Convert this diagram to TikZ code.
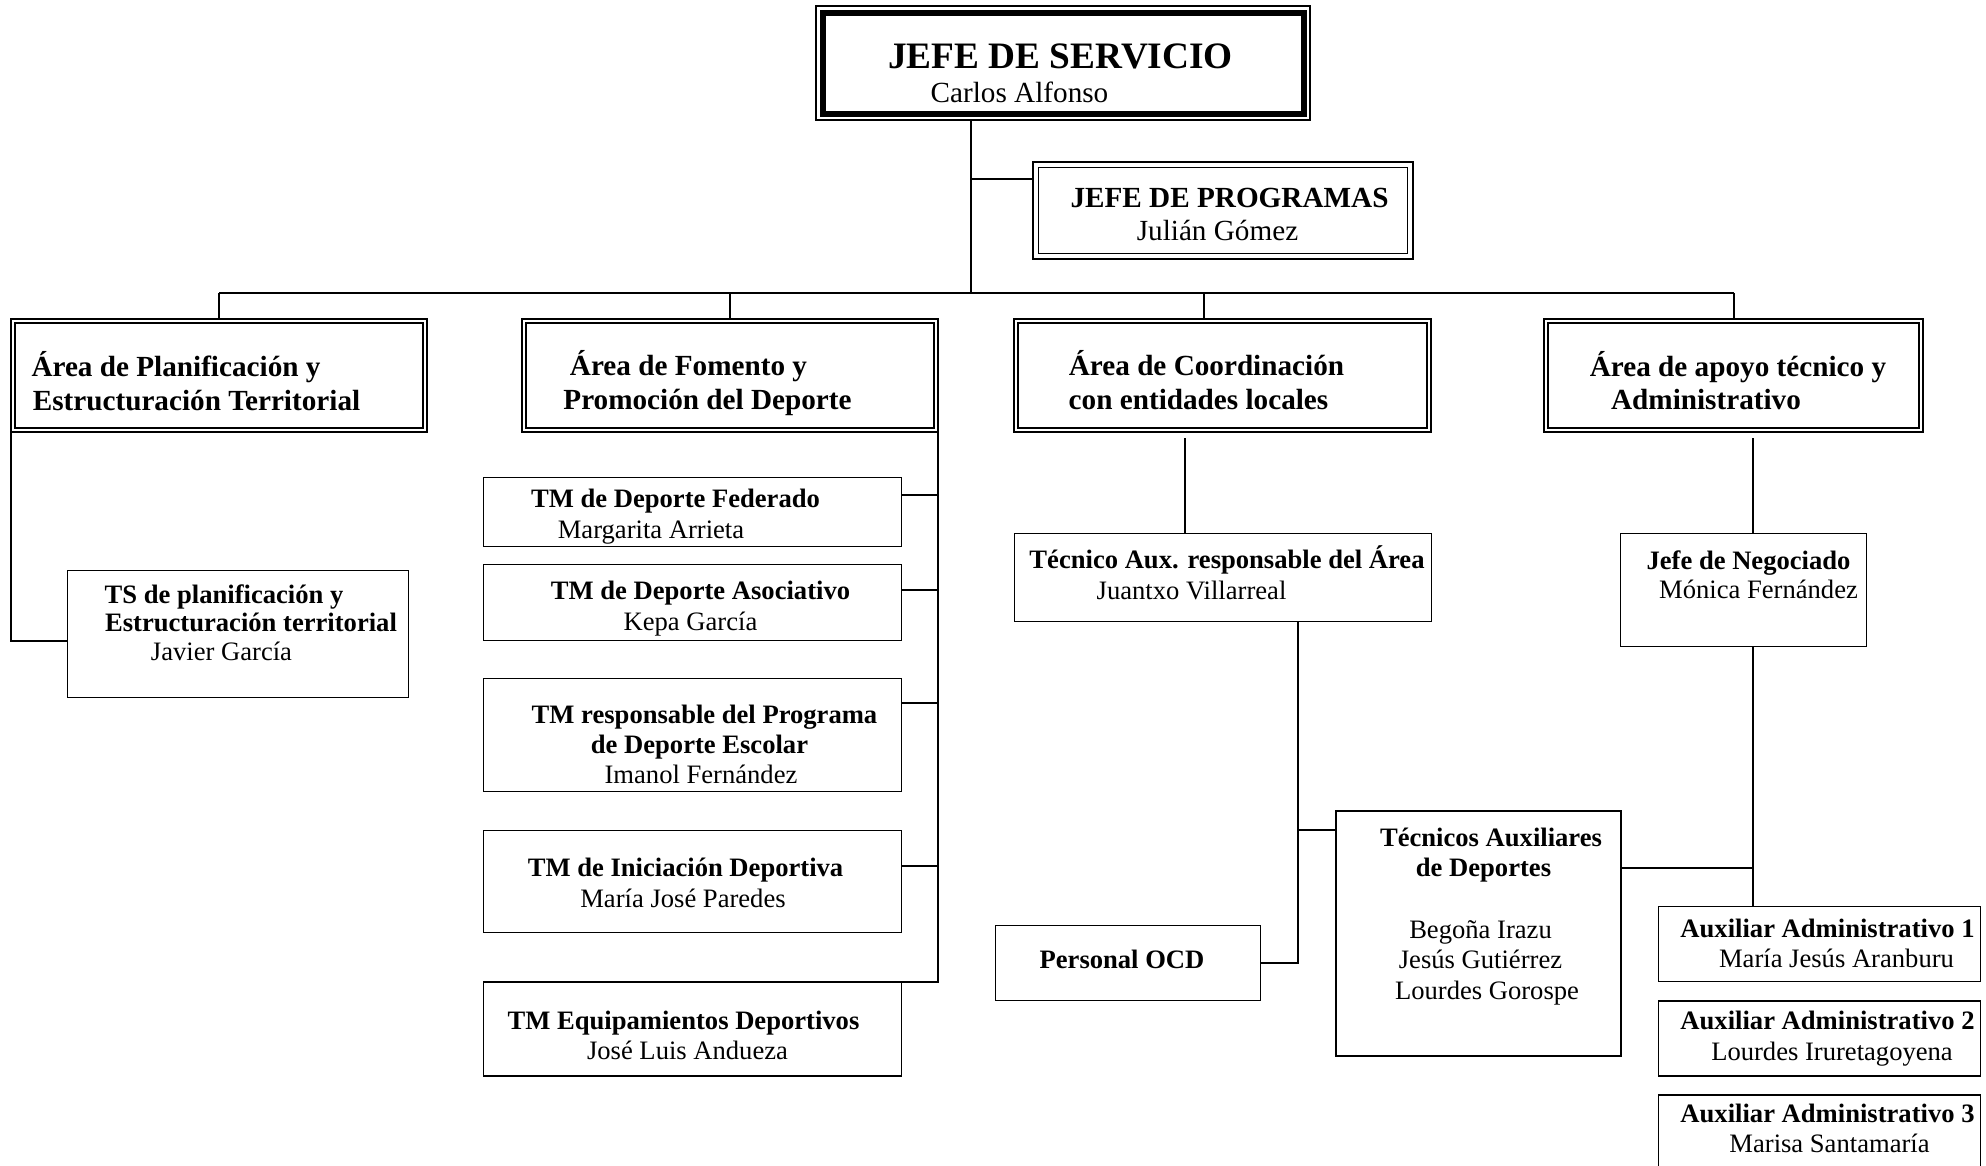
\documentclass[tikz,border=0pt]{standalone}
\usepackage{fontspec}
\setmainfont{Liberation Serif}
\begin{document}
\begin{tikzpicture}[x=1pt,y=-1pt,
  ln/.style={line width=1.6pt},
  sbox/.style={draw, line width=1.6pt, inner sep=0pt, outer sep=0pt},
  abox/.style={draw, line width=1.8pt, inner sep=0pt, outer sep=0pt, minimum height=113pt},
  tbig/.style={anchor=base, inner sep=0pt, font=\fontsize{37.3}{40}\selectfont\bfseries},
  tmb/.style={anchor=base, inner sep=0pt, font=\fontsize{29.2}{33}\selectfont\bfseries},
  tmr/.style={anchor=base, inner sep=0pt, font=\fontsize{29.2}{33}\selectfont},
  tsb/.style={anchor=base, inner sep=0pt, font=\fontsize{26.6}{30}\selectfont\bfseries},
  tsr/.style={anchor=base, inner sep=0pt, font=\fontsize{26.6}{30}\selectfont}]
\useasboundingbox (0,0) rectangle (1986,1165);
\clip (0,0) rectangle (1986,1165);

% ---------- boxes ----------
\node[sbox, line width=1.5pt, minimum width=494pt, minimum height=114pt] (js) at (1063,63) {};
\draw[line width=6pt] ([shift={(6.5,6.5)}]js.north west) rectangle ([shift={(-6.5,-6.5)}]js.south east);
\node[sbox, line width=2.4pt, minimum width=380pt, minimum height=97pt] (jp) at (1223,210.5) {};
\draw[line width=1.2pt] ([shift={(5.5,5.5)}]jp.north west) rectangle ([shift={(-5.5,-5.5)}]jp.south east);

\node[abox, minimum width=416pt] (ap) at (219,375.5) {};
\node[abox, minimum width=416pt] (af) at (730,375.5) {};
\node[abox, minimum width=417pt] (ac) at (1222.5,375.5) {};
\node[abox, minimum width=379pt] (aa) at (1733.5,375.5) {};
\foreach \n in {ap,af,ac,aa}
  \draw[line width=1.4pt] ([shift={(4,4)}]\n.north west) rectangle ([shift={(-4,-4)}]\n.south east);

\node[sbox, minimum width=341pt, minimum height=127pt] (ts) at (238,634) {};
\node[sbox, minimum width=418pt, minimum height=69pt] (f1) at (692.5,512) {};
\node[sbox, minimum width=418pt, minimum height=76pt] (f2) at (692.5,602.5) {};
\node[sbox, minimum width=418pt, minimum height=113pt] (f3) at (692.5,735) {};
\node[sbox, minimum width=418pt, minimum height=102pt] (f4) at (692.5,881.5) {};
\node[sbox, minimum width=418pt, minimum height=94pt] (f5) at (692.5,1029) {};
\node[sbox, minimum width=417pt, minimum height=88pt] (tc) at (1223,577.5) {};
\node[sbox, minimum width=265pt, minimum height=75pt] (ocd) at (1128,963) {};
\node[sbox, minimum width=285pt, minimum height=245pt] (ta) at (1478.5,933.5) {};
\node[sbox, minimum width=246pt, minimum height=113pt] (jn) at (1743.5,590) {};
\node[sbox, minimum width=322pt, minimum height=75pt] (a1) at (1819.5,944) {};
\node[sbox, minimum width=322pt, minimum height=75pt] (a2) at (1819.5,1038.5) {};
\node[sbox, minimum width=322pt, minimum height=76pt] (a3) at (1819.5,1133) {};

% ---------- texts ----------
\node[tbig] (tjs1) at (1060.5,68) {JEFE DE SERVICIO};
\node[tmr] (tjs2) at (1019.5,102) {Carlos Alfonso};
\node[tmb] (tjp1) at (1229.5,207) {JEFE DE PROGRAMAS};
\node[tmr] (tjp2) at (1217.5,240) {Julián Gómez};

\node[tmb] (tap1) at (176,376) {Área de Planificación y};
\node[tmb] (tap2) at (196.5,410) {Estructuración Territorial};
\node[tmb] (taf1) at (688.5,375) {Área de Fomento y};
\node[tmb] (taf2) at (707.5,409) {Promoción del Deporte};
\node[tmb] (tac1) at (1206.5,375) {Área de Coordinación};
\node[tmb] (tac2) at (1198.5,409) {con entidades locales};
\node[tmb] (taa1) at (1738,376) {Área de apoyo técnico y};
\node[tmb] (taa2) at (1706,409) {Administrativo};

\node[tsb] (tts1) at (224,603) {TS de planificación y};
\node[tsb] (tts2) at (251,631) {Estructuración territorial};
\node[tsr] (tts3) at (221.5,660) {Javier García};

\node[tsb] (tf11) at (675.5,507) {TM de Deporte Federado};
\node[tsr] (tf12) at (651,538) {Margarita Arrieta};
\node[tsb] (tf21) at (700.5,599) {TM de Deporte Asociativo};
\node[tsr] (tf22) at (690.5,630) {Kepa García};
\node[tsb] (tf31) at (704.5,723) {TM responsable del Programa};
\node[tsb] (tf32) at (699.5,753) {de Deporte Escolar};
\node[tsr] (tf33) at (701,783) {Imanol Fernández};
\node[tsb] (tf41) at (685.5,876) {TM de Iniciación Deportiva};
\node[tsr] (tf42) at (683,907) {María José Paredes};
\node[tsb] (tf51) at (683.5,1029) {TM Equipamientos Deportivos};
\node[tsr] (tf52) at (687.5,1059) {José Luis Andueza};

\node[tsb] (ttc1) at (1227,568) {Técnico Aux. responsable del Área};
\node[tsr] (ttc2) at (1191.5,599) {Juantxo Villarreal};
\node[tsb] (tta1) at (1491,846) {Técnicos Auxiliares};
\node[tsb] (tta2) at (1483.5,876) {de Deportes};
\node[tsr] (tta3) at (1480.5,938) {Begoña Irazu};
\node[tsr] (tta4) at (1480.5,968) {Jesús Gutiérrez};
\node[tsr] (tta5) at (1487,999) {Lourdes Gorospe};
\node[tsb] (tocd) at (1122,968) {Personal OCD};

\node[tsb] (tjn1) at (1748.5,569) {Jefe de Negociado};
\node[tsr] (tjn2) at (1758.5,598) {Mónica Fernández};
\node[tsb] (ta11) at (1827.5,937) {Auxiliar Administrativo 1};
\node[tsr] (ta12) at (1836.5,967) {María Jesús Aranburu};
\node[tsb] (ta21) at (1827.5,1029) {Auxiliar Administrativo 2};
\node[tsr] (ta22) at (1832,1060) {Lourdes Iruretagoyena};
\node[tsb] (ta31) at (1827.5,1122) {Auxiliar Administrativo 3};
\node[tsr] (ta32) at (1829.5,1152) {Marisa Santamaría};

% ---------- connectors ----------
\coordinate (bus) at (971,293);
\coordinate (busL) at (219,293);
\coordinate (busR) at (1734,293);
\coordinate (bus2) at (730,293);
\coordinate (bus3) at (1204,293);
\coordinate (jpb) at (971,179);
\draw[ln] (js.south -| bus) -- (bus);
\draw[ln] (jpb) -- (jpb -| jp.west);
\draw[ln] (busL) -- (busR);
\draw[ln] (busL) -- (busL |- ap.north);
\draw[ln] (bus2) -- (bus2 |- af.north);
\draw[ln] (bus3) -- (bus3 |- ac.north);
\draw[ln] (busR) -- (busR |- aa.north);

% planificacion
\coordinate (tsb) at (11,641);
\draw[ln] (ap.south west) -- (tsb) -- (tsb -| ts.west);

% fomento
\coordinate (fb1) at (938,495);
\coordinate (fb2) at (938,590);
\coordinate (fb3) at (938,703);
\coordinate (fb4) at (938,866);
\draw[ln] (af.south east) -- (af.south east |- f5.north east) -- (f5.north east);
\draw[ln] (fb1) -- (fb1 -| f1.east);
\draw[ln] (fb2) -- (fb2 -| f2.east);
\draw[ln] (fb3) -- (fb3 -| f3.east);
\draw[ln] (fb4) -- (fb4 -| f4.east);

% coordinacion
\coordinate (acd) at (1185,438);
\draw[ln] (acd) -- (acd |- tc.north);
\coordinate (tcb1) at (1298,830);
\coordinate (tcb2) at (1298,963);
\draw[ln] (tcb1 |- tc.south) -- (tcb2) -- (tcb2 -| ocd.east);
\draw[ln] (tcb1) -- (tcb1 -| ta.west);

% apoyo
\coordinate (aad) at (1753,438);
\draw[ln] (aad) -- (aad |- jn.north);
\coordinate (jnb) at (1753,868);
\draw[ln] (jnb |- jn.south) -- (jnb |- a1.north);
\draw[ln] (jnb) -- (jnb -| ta.east);
\end{tikzpicture}
\end{document}
